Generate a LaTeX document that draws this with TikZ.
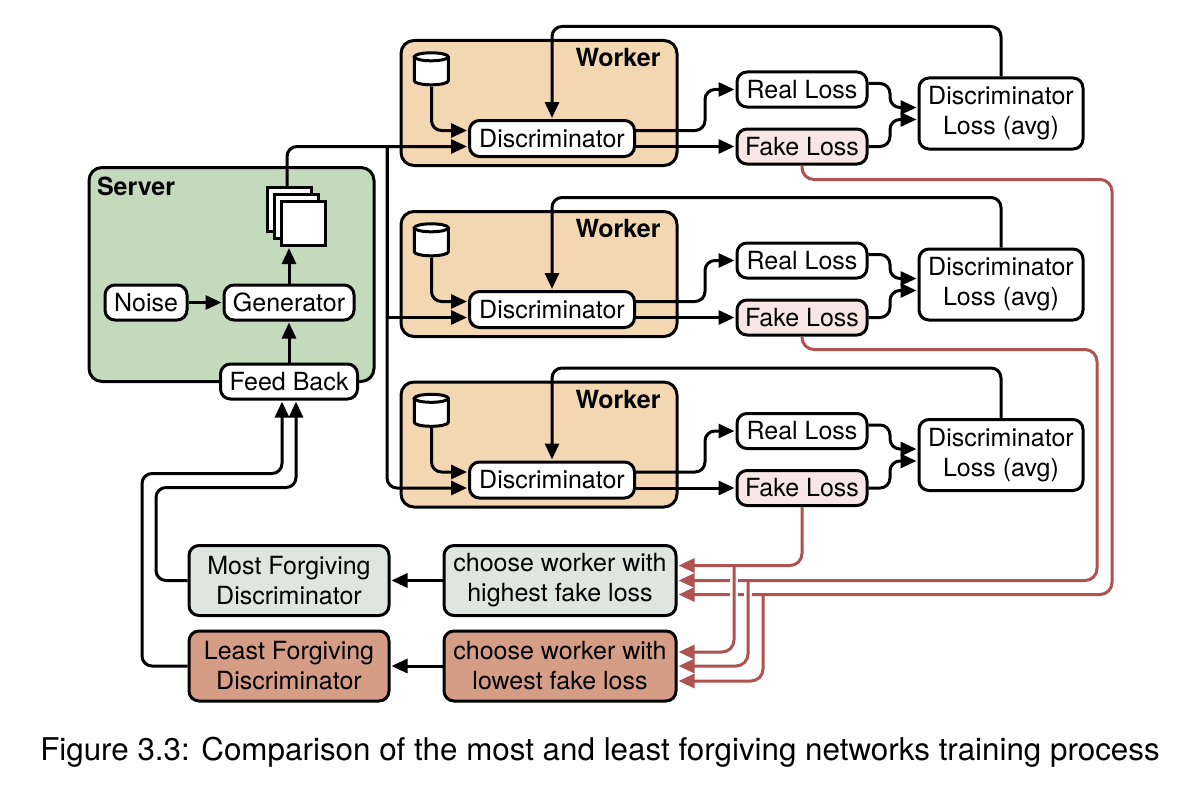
\documentclass[tikz,border=0pt]{standalone}
\usepackage{fontspec}
\setmainfont{TeX Gyre Heros}
\usetikzlibrary{arrows.meta}
\definecolor{workerfill}{HTML}{F3D7B2}
\definecolor{serverfill}{HTML}{C3DABC}
\definecolor{fakefill}{HTML}{F8E6E4}
\definecolor{mostfill}{HTML}{DFE5DF}
\definecolor{leastfill}{HTML}{D59D85}
\definecolor{lossred}{HTML}{AE5350}
\tikzset{
	box/.style={draw,fill=white,line width=3pt,rounded corners=10pt,inner sep=0pt,align=center,font=\fontsize{25}{30}\selectfont},
	group/.style={draw,line width=3pt,rounded corners=13pt,inner sep=0pt},
	title/.style={inner sep=0pt,font=\fontsize{25}{30}\selectfont\bfseries},
	page/.style={draw,fill=white,line width=3pt,inner sep=0pt,minimum size=44pt},
	store/.style={inner sep=0pt,minimum width=37pt,minimum height=35pt},
	arr/.style={line width=3pt,-{Triangle[length=16pt,width=14pt]},shorten >=1pt},
	line/.style={line width=3pt,rounded corners=10pt},
	redarr/.style={line width=3pt,draw=lossred,rounded corners=12pt,-{Triangle[length=16pt,width=14pt]},shorten >=1pt},
}
\newcommand{\drawdb}[1]{\draw[fill=white,line width=3pt] ([shift={(1.5,5.5)}]#1.north west) -- ++(0,24) arc[start angle=180,end angle=360,x radius=17pt,y radius=4pt] -- ++(0,-24) arc[start angle=0,end angle=180,x radius=17pt,y radius=4pt] arc[start angle=180,end angle=360,x radius=17pt,y radius=4pt];}
\begin{document}
\begin{tikzpicture}[x=1pt,y=-1pt]
		\useasboundingbox (0,-0.5) rectangle (1194,791.5);
		% server
		\node[group,fill=serverfill,minimum width=285pt,minimum height=214pt] (server) at (231.5,274) {};
		\node[title] (servertitle) at (136,186) {Server};
		\node[page] (page1) at (289,209) {};
		\node[page] (page2) at (296,216) {};
		\node[page] (page3) at (303,223) {};
		\node[box,minimum width=82pt,minimum height=35pt] (noise) at (146,302) {Noise};
		\node[box,minimum width=130pt,minimum height=35pt] (gen) at (289,302) {Generator};
		\node[box,minimum width=137pt,minimum height=35pt] (feed) at (289,381) {Feed Back};
		\draw[arr] (noise) -- (gen);
		\draw[arr] (gen.north) -- (gen.north |- page3.south);
		\draw[arr] (feed) -- (gen);
		\coordinate (trunk) at (387,146);
		\begin{scope}
			\node[group,fill=workerfill,minimum width=276pt,minimum height=125pt] (workera) at (539,102.5) {};
			\node[title] (titlea) at (618,57) {Worker};
			\node[store] (dba) at (431.5,68.5) {};
			\drawdb{dba}
			\node[box,minimum width=165pt,minimum height=36pt] (disca) at (552,138) {Discriminator};
			\node[box,minimum width=130pt,minimum height=35pt] (reala) at (802,89) {Real Loss};
			\node[box,fill=fakefill,minimum width=130pt,minimum height=35pt] (fakea) at (802,146) {Fake Loss};
			\node[box,minimum width=164pt,minimum height=71pt] (dlossa) at (1001,113) {Discriminator\\Loss (avg)};
			\draw[arr,line] (dlossa.north) |- (552,26) -- (disca.north);
			\draw[arr,line] (dba.south) |- ([yshift=8pt]disca.west);
			\draw[arr,line] ([yshift=8pt]disca.east) -| (705,89) -- (reala.west);
			\draw[arr] ([yshift=-8pt]disca.east) -- (fakea.west);
			\draw[arr,line] ([yshift=6pt]reala.east) -| (890,107) -- ([yshift=6pt]dlossa.west);
			\draw[arr,line] (fakea.east) -| (890,119) -- ([yshift=-6pt]dlossa.west);
		\end{scope}
		\begin{scope}[yshift=-171pt]
			\node[group,fill=workerfill,minimum width=276pt,minimum height=125pt] (workerb) at (539,102.5) {};
			\node[title] (titleb) at (618,57) {Worker};
			\node[store] (dbb) at (431.5,68.5) {};
			\drawdb{dbb}
			\node[box,minimum width=165pt,minimum height=36pt] (discb) at (552,138) {Discriminator};
			\node[box,minimum width=130pt,minimum height=35pt] (realb) at (802,89) {Real Loss};
			\node[box,fill=fakefill,minimum width=130pt,minimum height=35pt] (fakeb) at (802,146) {Fake Loss};
			\node[box,minimum width=164pt,minimum height=71pt] (dlossb) at (1001,113) {Discriminator\\Loss (avg)};
			\draw[arr,line] (dlossb.north) |- (552,26) -- (discb.north);
			\draw[arr,line] (dbb.south) |- ([yshift=8pt]discb.west);
			\draw[arr,line] ([yshift=8pt]discb.east) -| (705,89) -- (realb.west);
			\draw[arr] ([yshift=-8pt]discb.east) -- (fakeb.west);
			\draw[arr,line] ([yshift=6pt]realb.east) -| (890,107) -- ([yshift=6pt]dlossb.west);
			\draw[arr,line] (fakeb.east) -| (890,119) -- ([yshift=-6pt]dlossb.west);
		\end{scope}
		\begin{scope}[yshift=-341.5pt]
			\node[group,fill=workerfill,minimum width=276pt,minimum height=125pt] (workerc) at (539,102.5) {};
			\node[title] (titlec) at (618,57) {Worker};
			\node[store] (dbc) at (431.5,68.5) {};
			\drawdb{dbc}
			\node[box,minimum width=165pt,minimum height=36pt] (discc) at (552,138) {Discriminator};
			\node[box,minimum width=130pt,minimum height=35pt] (realc) at (802,89) {Real Loss};
			\node[box,fill=fakefill,minimum width=130pt,minimum height=35pt] (fakec) at (802,146) {Fake Loss};
			\node[box,minimum width=164pt,minimum height=71pt] (dlossc) at (1001,113) {Discriminator\\Loss (avg)};
			\draw[arr,line] (dlossc.north) |- (552,26) -- (discc.north);
			\draw[arr,line] (dbc.south) |- ([yshift=8pt]discc.west);
			\draw[arr,line] ([yshift=8pt]discc.east) -| (705,89) -- (realc.west);
			\draw[arr] ([yshift=-8pt]discc.east) -- (fakec.west);
			\draw[arr,line] ([yshift=6pt]realc.east) -| (890,107) -- ([yshift=6pt]dlossc.west);
			\draw[arr,line] (fakec.east) -| (890,119) -- ([yshift=-6pt]dlossc.west);
		\end{scope}
		% models to the workers
		\draw[arr,line] ([xshift=-2pt]page1.north) |- ([yshift=-8pt]disca.west);
		\draw[arr] (trunk) |- ([yshift=-8pt]discb.west);
		\draw[arr,line] (trunk) |- ([yshift=-8pt]discc.west);
		% lower row
		\node[box,fill=mostfill,minimum width=232pt,minimum height=70pt] (high) at (560,580) {choose worker with\\highest fake loss};
		\node[box,fill=leastfill,minimum width=232pt,minimum height=70pt] (low) at (560,665.5) {choose worker with\\lowest fake loss};
		\node[box,fill=mostfill,minimum width=200pt,minimum height=70pt] (most) at (289,580) {Most Forgiving\\Discriminator};
		\node[box,fill=leastfill,minimum width=200pt,minimum height=70pt] (least) at (289,665.5) {Least Forgiving\\Discriminator};
		\draw[arr] (high) -- (most);
		\draw[arr] (low) -- (least);
		\draw[arr,line] (most.west) -| (156,487) -| ([xshift=7pt]feed.south);
		\draw[arr,line] (least.west) -| (142,473) -| ([xshift=-7pt]feed.south);
		% fake losses
		\coordinate (tapa) at (734,565);
		\coordinate (tapb) at (748,580);
		\coordinate (tapc) at (763,594);
		\draw[redarr] (fakea.south) |- (1112,179) |- ([yshift=-14pt]high.east);
		\draw[redarr] (fakeb.south) |- (1097,349) |- (high.east);
		\draw[redarr] (fakec.south) |- ([yshift=15pt]high.east);
		\draw[white,line width=8pt] (734,572) -- (734,600);
		\draw[white,line width=8pt] (748,587) -- (748,600);
		\draw[redarr] (tapa) |- ([yshift=14pt]low.east);
		\draw[redarr] (tapb) |- (low.east);
		\draw[redarr] (tapc) |- ([yshift=-15pt]low.east);
		\node[inner sep=0pt,font=\fontsize{31.35}{36}\selectfont] (caption) at (600,752) {Figure 3.3: Comparison of the most and least forgiving networks training process};
	\end{tikzpicture}
\end{document}
